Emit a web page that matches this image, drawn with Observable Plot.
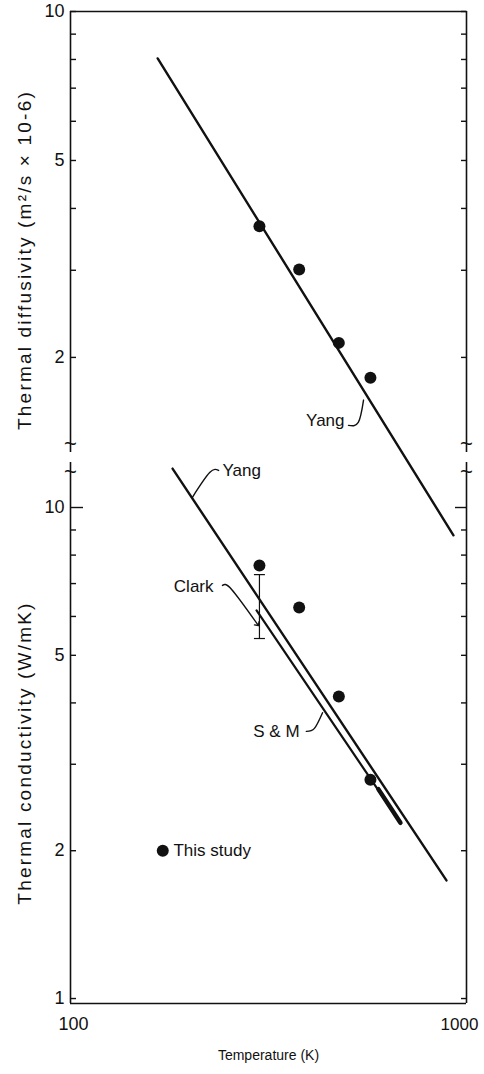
<!DOCTYPE html>
<html><head><meta charset="utf-8">
<script src="https://cdn.jsdelivr.net/npm/d3@7"></script>
<script src="https://cdn.jsdelivr.net/npm/@observablehq/plot@0.6"></script>
<style>
body{margin:0;background:#fff;}
#wrap{position:relative;width:484px;height:1074px;}
#wrap svg{position:absolute;left:0;top:0;overflow:visible;}
</style></head><body><div id="wrap"></div>
<script>
// ---- data ----
const xDomain = [100, 1000];
const diffDomain = [1.285, 10];
const condDomain = [0.977, 12.35];

const temps = [300, 378, 476, 572];
const diffusivity = [3.68, 3.01, 2.14, 1.82];
const conductivity = [7.62, 6.26, 4.12, 2.79];

const yangDiffT = [166, 927];
const yangDiffV = [8.04, 0.874];
const yangCondT = [181, 890];
const yangCondV = [12.0, 1.74];
const smT = [295, 681];
const smV = [6.17, 2.28];
const smThickT = [599, 681];
const smThickV = [2.67, 2.28];
const clarkBarT = [300];
const clarkBarLo = [5.41];
const clarkBarHi = [7.3];

const legendDotT = [171];
const legendDotV = [2.0];

const diffTickVals = [2, 3, 4, 5, 6, 7, 8, 9, 10];
const diffLabelVals = [10, 5, 2];
const condTickVals = [1, 2, 3, 4, 5, 6, 7, 8, 9];
const condLongTickVals = [10];
const condLabelVals = [10, 5, 2, 1];
const xLabelLeft = [100];
const xLabelRight = [1000];

// annotation labels and leaders (data coordinates)
const yangTopLabel = {T: 492, v: 1.49, text: "Yang"};
const yangTopHookT = [503.5, 533, 549.5];
const yangTopHookV = [1.458, 1.478, 1.64];
const yangBotLabel = {T: 242, v: 11.9, text: "Yang"};
const yangBotHookT = [236.6, 224.6, 203];
const yangBotHookV = [11.9, 11.78, 10.48];
const clarkLabel = {T: 229.7, v: 6.9, text: "Clark"};
const clarkHookT = [242, 255.2, 296.8];
const clarkHookV = [6.94, 6.81, 5.78];
const smLabel = {T: 378.8, v: 3.5, text: "S & M"};
const smHookT = [394, 413, 433];
const smHookV = [3.50, 3.55, 3.82];
const legendLabel = {T: 182, v: 2.0, text: "This study"};

const diffTitle = "Thermal diffusivity (m\u00B2/s \u00D7 10-6)";
const condTitle = "Thermal conductivity (W/mK)";
const xTitle = "Temperature (K)";

// ---- helpers ----
const pts = (T, V) => T.map((t, i) => ({T: t, v: V[i]}));
const FONT = "'Liberation Sans', Arial, Helvetica, sans-serif";
const capSymbol = {draw(ctx, size) { const r = Math.sqrt(size / Math.PI); ctx.moveTo(-r, 0); ctx.lineTo(r, 0); }};
const INK = "#111";

const topPlot = Plot.plot({
  width: 484, height: 1074,
  marginLeft: 70, marginRight: 18, marginTop: 11, marginBottom: 622,
  style: {fontFamily: FONT, background: "transparent", overflow: "visible", color: INK},
  x: {type: "log", domain: xDomain, axis: null},
  y: {type: "log", domain: diffDomain},
  marks: [
    Plot.ruleX(xDomain, {stroke: INK, strokeWidth: 1.6}),
    Plot.ruleY([diffDomain[1]], {stroke: INK, strokeWidth: 1.6}),
    Plot.axisY(diffTickVals, {anchor: "left", tickSize: -6, tickFormat: () => "", label: null, strokeWidth: 1.4}),
    Plot.axisY(diffTickVals, {anchor: "right", tickSize: -6, tickFormat: () => "", label: null, strokeWidth: 1.4}),
    Plot.axisY(diffLabelVals, {anchor: "left", tickSize: 0, tickPadding: 6, fontSize: 18, label: null, tickFormat: d => String(d)}),
    Plot.text(["~"], {frameAnchor: "bottom-left", textAnchor: "middle", text: d => d, fontSize: 22, dy: -2, fill: INK}),
    Plot.text(["~"], {frameAnchor: "bottom-right", textAnchor: "middle", text: d => d, fontSize: 22, dy: -2, fill: INK}),
    Plot.line(pts(yangDiffT, yangDiffV), {x: "T", y: "v", stroke: INK, strokeWidth: 2.4}),
    Plot.dot(pts(temps, diffusivity), {x: "T", y: "v", r: 6, fill: INK}),
    Plot.text([yangTopLabel], {x: "T", y: "v", text: "text", textAnchor: "end", fontSize: 17, fill: INK}),
    Plot.line(pts(yangTopHookT, yangTopHookV), {x: "T", y: "v", curve: "natural", stroke: INK, strokeWidth: 1.4}),
    Plot.text([diffTitle], {frameAnchor: "left", textAnchor: "middle", text: d => d, rotate: -90, dx: -46, dy: 28, fontSize: 19, fill: INK})
  ]
});

const botPlot = Plot.plot({
  width: 484, height: 1074,
  marginLeft: 70, marginRight: 18, marginTop: 462, marginBottom: 71,
  style: {fontFamily: FONT, background: "transparent", overflow: "visible", color: INK},
  x: {type: "log", domain: xDomain},
  y: {type: "log", domain: condDomain},
  marks: [
    Plot.ruleX(xDomain, {stroke: INK, strokeWidth: 1.6}),
    Plot.ruleY([condDomain[0]], {stroke: INK, strokeWidth: 1.6}),
    Plot.axisY(condTickVals, {anchor: "left", tickSize: -6, tickFormat: () => "", label: null, strokeWidth: 1.4}),
    Plot.axisY(condTickVals, {anchor: "right", tickSize: -6, tickFormat: () => "", label: null, strokeWidth: 1.4}),
    Plot.axisY(condLongTickVals, {anchor: "left", tickSize: -13, tickFormat: () => "", label: null, strokeWidth: 1.4}),
    Plot.axisY(condLongTickVals, {anchor: "right", tickSize: -12, tickFormat: () => "", label: null, strokeWidth: 1.4}),
    Plot.axisY(condLabelVals, {anchor: "left", tickSize: 0, tickPadding: 6, fontSize: 18, label: null, tickFormat: d => String(d)}),
    Plot.axisX(xLabelLeft, {anchor: "bottom", tickSize: 0, tickPadding: 14, fontSize: 18, dx: 3, label: null, tickFormat: d => String(d)}),
    Plot.axisX(xLabelRight, {anchor: "bottom", tickSize: 0, tickPadding: 14, fontSize: 17, dx: -7, label: null, tickFormat: d => String(d)}),
    Plot.text(["~"], {frameAnchor: "top-left", textAnchor: "middle", text: d => d, fontSize: 22, dy: 1, fill: INK}),
    Plot.text(["~"], {frameAnchor: "top-right", textAnchor: "middle", text: d => d, fontSize: 22, dy: 1, fill: INK}),
    Plot.line(pts(yangCondT, yangCondV), {x: "T", y: "v", stroke: INK, strokeWidth: 2.4}),
    Plot.line(pts(smT, smV), {x: "T", y: "v", stroke: INK, strokeWidth: 2.2}),
    Plot.line(pts(smThickT, smThickV), {x: "T", y: "v", stroke: INK, strokeWidth: 4.5}),
    Plot.ruleX(clarkBarT.map((t, i) => ({T: t, lo: clarkBarLo[i], hi: clarkBarHi[i]})), {x: "T", y1: "lo", y2: "hi", stroke: INK, strokeWidth: 1.2}),
    Plot.dot(clarkBarT.flatMap((t, i) => [{T: t, v: clarkBarLo[i]}, {T: t, v: clarkBarHi[i]}]), {x: "T", y: "v", symbol: capSymbol, r: 5.5, stroke: INK, strokeWidth: 1.2, fill: "none"}),
    Plot.dot(pts(temps, conductivity), {x: "T", y: "v", r: 6, fill: INK}),
    Plot.dot(pts(legendDotT, legendDotV), {x: "T", y: "v", r: 6, fill: INK}),
    Plot.text([legendLabel], {x: "T", y: "v", text: "text", textAnchor: "start", fontSize: 17, fill: INK}),
    Plot.text([yangBotLabel], {x: "T", y: "v", text: "text", textAnchor: "start", fontSize: 17, fill: INK}),
    Plot.line(pts(yangBotHookT, yangBotHookV), {x: "T", y: "v", curve: "natural", stroke: INK, strokeWidth: 1.4}),
    Plot.text([clarkLabel], {x: "T", y: "v", text: "text", textAnchor: "end", fontSize: 17, fill: INK}),
    Plot.line(pts(clarkHookT, clarkHookV), {x: "T", y: "v", curve: "natural", stroke: INK, strokeWidth: 1.4, markerEnd: "arrow"}),
    Plot.text([smLabel], {x: "T", y: "v", text: "text", textAnchor: "end", fontSize: 17, fill: INK}),
    Plot.line(pts(smHookT, smHookV), {x: "T", y: "v", curve: "natural", stroke: INK, strokeWidth: 1.4}),
    Plot.text([condTitle], {frameAnchor: "left", textAnchor: "middle", text: d => d, rotate: -90, dx: -46, dy: 20, fontSize: 19, fill: INK}),
    Plot.text([xTitle], {frameAnchor: "bottom", text: d => d, dy: 56, fontSize: 14, fill: INK})
  ]
});

const wrap = document.getElementById("wrap");
wrap.appendChild(botPlot);
wrap.appendChild(topPlot);
for (const svg of [topPlot, botPlot]) {
  d3.select(svg).selectAll("text").filter(function() { return this.textContent.startsWith("Thermal"); })
    .style("letter-spacing", "2.2px");
}
</script></body></html>
